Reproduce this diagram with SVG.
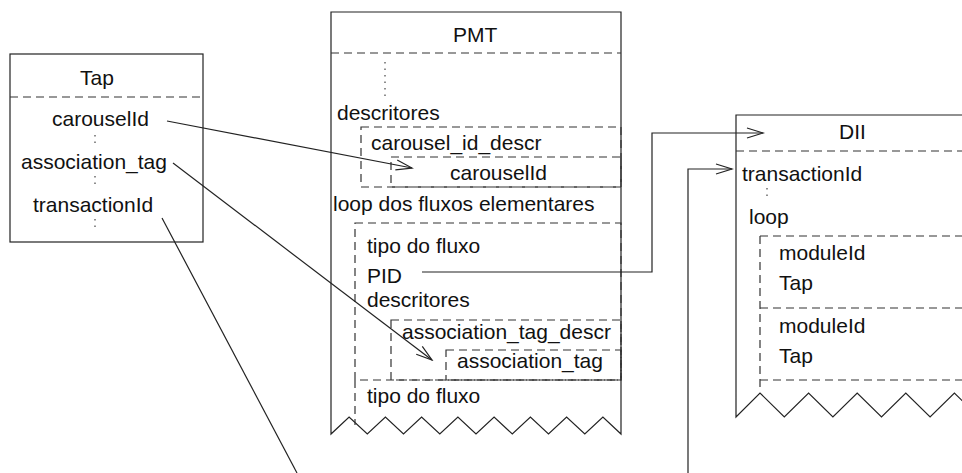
<svg xmlns="http://www.w3.org/2000/svg" width="962" height="473" viewBox="0 0 962 473">
  <style>
    text { font-family: "Liberation Sans", Arial, sans-serif; font-size: 21px; fill: #111; }
    .solid { fill: none; stroke: #222; stroke-width: 1.2; }
    .dash { fill: none; stroke: #333; stroke-width: 1.2; stroke-dasharray: 8 5; }
    .dot { fill: none; stroke: #444; stroke-width: 1.2; stroke-dasharray: 1.5 5; }
    .link { fill: none; stroke: #222; stroke-width: 1.2; }
  </style>
  <defs>
    <marker id="open" markerUnits="userSpaceOnUse" markerWidth="20" markerHeight="14" viewBox="-18 -7 20 14" refX="0" refY="0" orient="auto">
      <path d="M-16,-5 L0,0 L-16,5" fill="none" stroke="#222" stroke-width="1.2"/>
    </marker>
  </defs>
  <rect width="962" height="473" fill="#fff"/>

  <!-- Tap structure -->
  <g id="tap">
    <rect class="solid" x="10" y="54" width="193" height="188"/>
    <line class="dash" x1="10" y1="97" x2="203" y2="97"/>
    <text x="80" y="85">Tap</text>
    <text x="52" y="126">carouselId</text>
    <line class="dot" x1="95" y1="135" x2="95" y2="148"/>
    <text x="21" y="169">association_tag</text>
    <line class="dot" x1="95" y1="176" x2="95" y2="189"/>
    <text x="33" y="212">transactionId</text>
    <line class="dot" x1="95" y1="219" x2="95" y2="232"/>
  </g>

  <!-- PMT table, torn off at the bottom -->
  <g id="pmt">
    <path class="solid" d="M331,12 H621 V434 L602.9,417 L584.8,434 L566.6,417 L548.5,434 L530.4,417 L512.3,434 L494.1,417 L476,434 L457.9,417 L439.8,434 L421.6,417 L403.5,434 L385.4,417 L367.3,434 L349.1,417 L331,434 Z"/>
    <line class="dash" x1="331" y1="53" x2="621" y2="53"/>
    <text x="453" y="42">PMT</text>
    <line class="dot" x1="385" y1="62" x2="385" y2="97"/>
    <text x="337" y="120">descritores</text>
    <rect class="dash" x="361" y="127" width="260" height="60"/>
    <text x="371" y="150">carousel_id_descr</text>
    <rect class="dash" x="391" y="157" width="230" height="30"/>
    <text x="450" y="180">carouselId</text>
    <text x="333" y="211">loop dos fluxos elementares</text>
    <rect class="dash" x="355" y="223" width="266" height="157"/>
    <text x="367" y="253">tipo do fluxo</text>
    <text x="367" y="283">PID</text>
    <text x="367" y="307">descritores</text>
    <rect class="dash" x="391" y="320" width="230" height="60"/>
    <text x="402" y="339">association_tag_descr</text>
    <rect class="dash" x="446" y="350" width="175" height="30"/>
    <text x="457" y="368">association_tag</text>
    <line class="dash" x1="355" y1="380" x2="355" y2="425"/>
    <text x="367" y="403">tipo do fluxo</text>
  </g>

  <!-- DII message, cut at the right edge and torn at the bottom -->
  <g id="dii">
    <path class="solid" d="M970,115 H736 V417 L760,393 L784.3,417 L808.6,393 L832.9,417 L857.2,393 L881.5,417 L905.8,393 L930.1,417 L954.4,393 L978.7,417"/>
    <line class="dash" x1="736" y1="151" x2="962" y2="151"/>
    <text x="839" y="139">DII</text>
    <text x="742" y="181">transactionId</text>
    <line class="dot" x1="767" y1="188" x2="767" y2="200"/>
    <text x="749" y="224">loop</text>
    <line class="dash" x1="760" y1="236" x2="962" y2="236"/>
    <line class="dash" x1="760" y1="236" x2="760" y2="390"/>
    <text x="779" y="260">moduleId</text>
    <text x="779" y="290">Tap</text>
    <line class="dash" x1="760" y1="308" x2="962" y2="308"/>
    <text x="779" y="333">moduleId</text>
    <text x="779" y="363">Tap</text>
    <line class="dash" x1="760" y1="380" x2="962" y2="380"/>
  </g>

  <!-- references between the tables -->
  <g id="connectors">
    <line class="link" x1="167" y1="121" x2="412" y2="168" marker-end="url(#open)"/>
    <line class="link" x1="173" y1="163" x2="432" y2="360" marker-end="url(#open)"/>
    <line class="link" x1="162" y1="218" x2="297" y2="473"/>
    <polyline class="link" points="422,272 652,272 652,133 763,133" marker-end="url(#open)"/>
    <polyline class="link" points="688,473 688,169 732,169" marker-end="url(#open)"/>
  </g>
</svg>
